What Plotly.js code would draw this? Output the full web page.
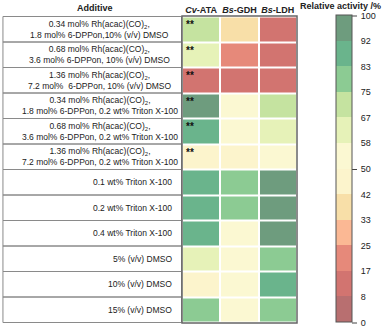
<!DOCTYPE html>
<html>
<head>
<meta charset="utf-8">
<script src="https://cdn.plot.ly/plotly-3.0.1.min.js"></script>
<style>
  html, body { margin: 0; padding: 0; background: #fff; }
  #chart { width: 392px; height: 328px; }
</style>
</head>
<body>
<div id="chart"></div>
<script>
// rows of the table, top to bottom
var additives = [
	'0.34 mol% Rh(acac)(CO)<sub>2</sub>,<br>1.8 mol% 6-DPPon,10% (v/v) DMSO',
	'0.68 mol% Rh(acac)(CO)<sub>2</sub>,<br>3.6 mol% 6-DPPon, 10% (v/v) DMSO',
	'1.36 mol% Rh(acac)(CO)<sub>2</sub>,<br>7.2 mol%  6-DPPon, 10% (v/v) DMSO',
	'0.34 mol% Rh(acac)(CO)<sub>2</sub>,<br>1.8 mol% 6-DPPon, 0.2 wt% Triton X-100',
	'0.68 mol% Rh(acac)(CO)<sub>2</sub>,<br>3.6 mol% 6-DPPon, 0.2 wt% Triton X-100',
	'1.36 mol% Rh(acac)(CO)<sub>2</sub>,<br>7.2 mol% 6-DPPon, 0.2 wt% Triton X-100',
	'0.1 wt% Triton X-100',
	'0.2 wt% Triton X-100',
	'0.4 wt% Triton X-100',
	'5% (v/v) DMSO',
	'10% (v/v) DMSO',
	'15% (v/v) DMSO'
];
var enzymes = ['Cv-ATA', 'Bs-GDH', 'Bs-LDH'];
var enzymeLabels = ['<b><i>Cv</i>-ATA</b>', '<b><i>Bs</i>-GDH</b>', '<b><i>Bs</i>-LDH</b>'];

// relative activity /%
var cvATA = [72, 62, 12, 96, 88, 47, 87, 87, 87, 62, 47, 79];
var bsGDH = [38, 20, 12, 52, 52, 47, 79, 79, 52, 52, 52, 52];
var bsLDH = [12, 12, 12, 72, 62, 55, 96, 96, 96, 79, 87, 79];
var significance = ['**', '**', '**', '**', '**', '**', '', '', '', '', '', ''];

var barVals = [0, 8, 17, 25, 33, 42, 50, 58, 67, 75, 83, 92, 100];
var bandColors = ['#b86f70', '#d27470', '#e6897a', '#fbb894', '#f8dfa8', '#fcf4cc',
	'#fbf8d2', '#e6f2b8', '#c5e3a0', '#8ccb93', '#6ab48c', '#6e9c7e'];

// discrete colour scale, 12 equal bands
var colorscale = [];
for (var k = 0; k < bandColors.length; k++) {
	colorscale.push([k / 12, bandColors[k]]);
	colorscale.push([(k + 1) / 12, bandColors[k]]);
}
var tickPos = barVals.map(function(v, k) { return k * 100 / 12; });

var z = additives.map(function(a, i) { return [cvATA[i], bsGDH[i], bsLDH[i]]; });

var font = 'Liberation Sans, Arial, sans-serif';

var trace = {
	type: 'heatmap',
	x: enzymes,
	y: additives,
	z: z,
	zmin: 0,
	zmax: 100,
	colorscale: colorscale,
	xgap: 2,
	ygap: 2,
	hoverinfo: 'skip',
	colorbar: {
		x: 1.339,
		xanchor: 'left',
		y: 0.502,
		yanchor: 'middle',
		len: 1,
		thickness: 16,
		xpad: 0,
		ypad: 0,
		outlinewidth: 1,
		outlinecolor: '#555',
		tickmode: 'array',
		tickvals: tickPos,
		ticktext: barVals.map(String),
		ticks: 'outside',
		ticklen: 7,
		tickcolor: 'rgba(0,0,0,0)',
		tickfont: {family: font, size: 9, color: '#222'}
	}
};

var shapes = [];
var annotations = [];

// left table boxes + texts
additives.forEach(function(a, i) {
	shapes.push({
		type: 'rect', xref: 'paper', yref: 'y',
		x0: -1.557, x1: -0.004, y0: i - 0.5, y1: i + 0.5,
		line: {color: '#8a8a8a', width: 1}, fillcolor: 'rgba(0,0,0,0)', layer: 'below'
	});
	var twoLine = a.indexOf('<br>') >= 0;
	annotations.push({
		xref: 'paper', yref: 'y',
		x: twoLine ? -0.715 : -0.07, y: a,
		xanchor: twoLine ? 'center' : 'right',
		align: 'center',
		text: a, showarrow: false,
		font: {family: font, size: 8.5, color: '#222'}
	});
	if (significance[i]) {
		annotations.push({
			xref: 'x', yref: 'y', x: enzymes[0], y: a,
			xanchor: 'left', yanchor: 'top', xshift: -17, yshift: 12,
			text: '<b>' + significance[i] + '</b>', showarrow: false,
			font: {family: font, size: 10, color: '#111'}
		});
	}
});

// heatmap frame
shapes.push({
	type: 'rect', xref: 'paper', yref: 'paper', x0: 0, x1: 1, y0: 0, y1: 1,
	line: {color: '#666', width: 1.5}
});

// marks on the colour bar at 0, 50, 100
[0, 50, 100].forEach(function(v) {
	shapes.push({
		type: 'line', xref: 'paper', yref: 'paper',
		x0: 1.478, x1: 1.522, y0: v / 100, y1: v / 100,
		line: {color: '#444', width: 1}
	});
});

annotations.push({
	xref: 'paper', yref: 'paper', x: -0.757, y: 1.027,
	xanchor: 'center', yanchor: 'middle',
	text: '<b>Additive</b>', showarrow: false,
	font: {family: font, size: 9, color: '#222'}
});
annotations.push({
	xref: 'paper', yref: 'paper', x: 1.374, y: 1.034,
	xanchor: 'center', yanchor: 'middle',
	text: '<b>Relative activity /%</b>', showarrow: false,
	font: {family: font, size: 9, color: '#222'}
});

var layout = {
	width: 392,
	height: 328,
	margin: {l: 182, r: 95, t: 16, b: 5, pad: 0},
	paper_bgcolor: '#fff',
	plot_bgcolor: '#fff',
	font: {family: font, size: 9, color: '#222'},
	xaxis: {
		side: 'top',
		tickmode: 'array',
		tickvals: enzymes,
		ticktext: enzymeLabels,
		ticks: '',
		showgrid: false,
		zeroline: false,
		fixedrange: true,
		tickfont: {family: font, size: 9, color: '#222'}
	},
	yaxis: {
		autorange: 'reversed',
		showticklabels: false,
		ticks: '',
		showgrid: false,
		zeroline: false,
		fixedrange: true
	},
	shapes: shapes,
	annotations: annotations
};

Plotly.newPlot('chart', [trace], layout, {displayModeBar: false, staticPlot: true});
</script>
</body>
</html>
